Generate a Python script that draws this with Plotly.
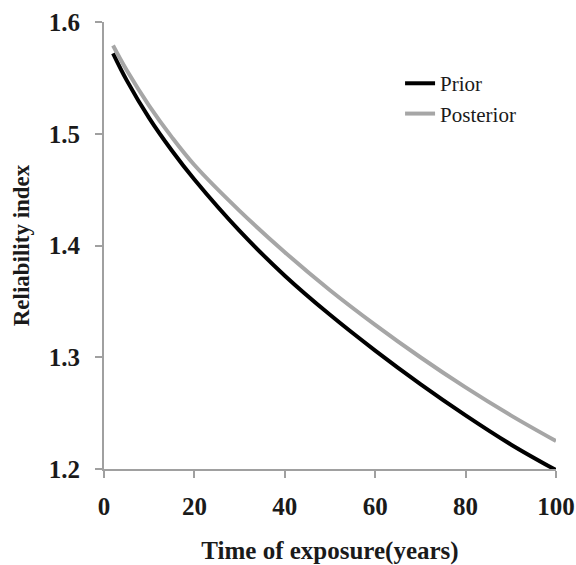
import plotly.graph_objects as go

# Time of exposure (years)
years = [2, 5, 10, 15, 20, 30, 40, 50, 60, 70, 80, 90, 100]

# Reliability index, prior and posterior estimates
prior = [1.572, 1.548, 1.514, 1.485, 1.459, 1.413, 1.373, 1.338, 1.306, 1.276, 1.248, 1.222, 1.199]
posterior = [1.579, 1.557, 1.525, 1.497, 1.472, 1.431, 1.394, 1.360, 1.329, 1.300, 1.273, 1.248, 1.225]

x_ticks = [0, 20, 40, 60, 80, 100]
y_ticks = [1.2, 1.3, 1.4, 1.5, 1.6]

serif = "Liberation Serif"
ink = "#1a1a1a"

fig = go.Figure()
fig.add_trace(go.Scatter(x=years, y=prior, name="Prior", mode="lines",
                         line=dict(color="#000000", width=4, shape="spline")))
fig.add_trace(go.Scatter(x=years, y=posterior, name="Posterior", mode="lines",
                         line=dict(color="#a6a6a6", width=4, shape="spline")))

axis_common = dict(
    showline=True, linecolor="#a0a0a0", linewidth=2,
    ticks="outside", ticklen=7, tickcolor="#a0a0a0", tickwidth=2,
    showgrid=False, zeroline=False, automargin=False,
    tickfont=dict(family=serif, size=25, color=ink),
)

fig.update_xaxes(
    range=[0, 100], tickvals=x_ticks, ticktext=[f"<b>{v}</b>" for v in x_ticks],
    ticklabelstandoff=7,
    title=dict(text="<b>Time of exposure(years)</b>",
               font=dict(family=serif, size=25, color=ink), standoff=34),
    **axis_common,
)
fig.update_yaxes(
    range=[1.2, 1.6], tickvals=y_ticks, ticktext=[f"<b>{v:.1f}</b>" for v in y_ticks],
    ticklabelstandoff=10,
    title=dict(text="<b>Reliability index</b>",
               font=dict(family=serif, size=23, color=ink), standoff=13),
    **axis_common,
)

fig.update_layout(
    width=576, height=565,
    margin=dict(l=104, r=20, t=22, b=96, autoexpand=False),
    paper_bgcolor="white", plot_bgcolor="white",
    legend=dict(x=0.655, y=0.908, xanchor="left", yanchor="top",
                font=dict(family=serif, size=21, color=ink),
                bgcolor="rgba(0,0,0,0)", tracegroupgap=0),
)

fig.write_html("out.html")
